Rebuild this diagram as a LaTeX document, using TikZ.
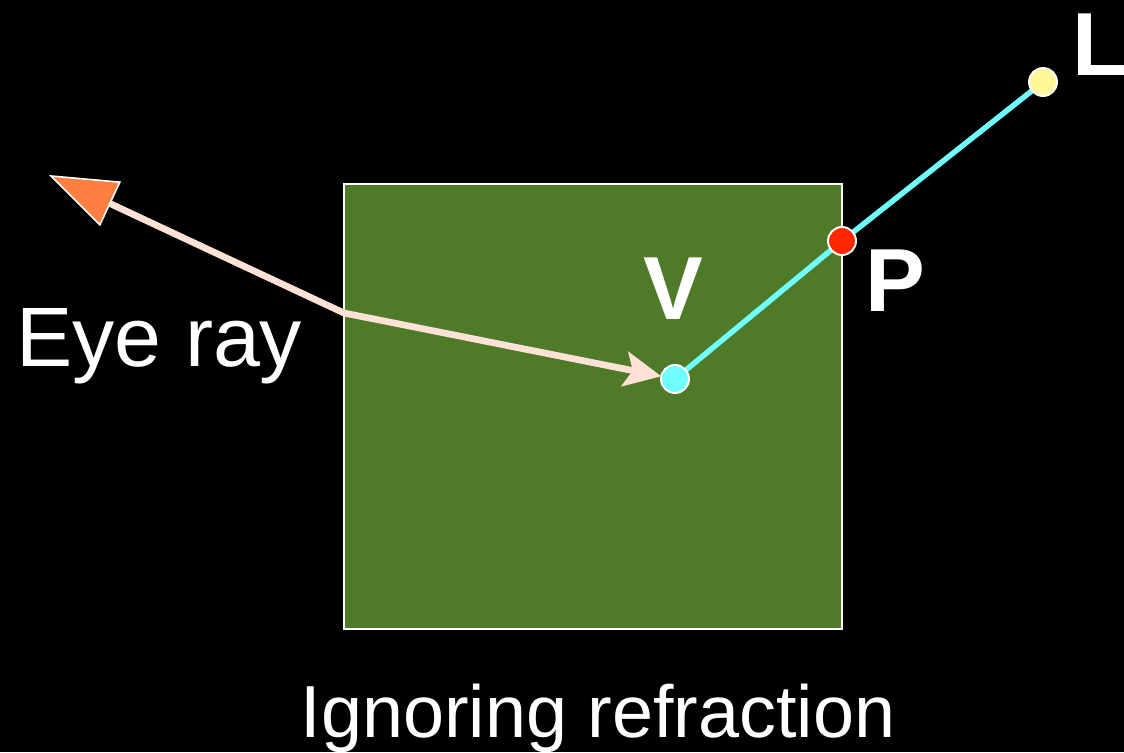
\documentclass[tikz,border=0pt]{standalone}
\usepackage{fontspec}
\setmainfont{Liberation Sans}
\usetikzlibrary{arrows.meta}

\definecolor{slabgreen}{RGB}{79,122,40}
\definecolor{raypeach}{RGB}{255,225,214}
\definecolor{tiporange}{RGB}{255,127,64}
\definecolor{raycyan}{RGB}{111,255,255}
\definecolor{hitred}{RGB}{255,38,0}
\definecolor{lampyellow}{RGB}{255,248,153}

\tikzset{
  dot/.style={circle, draw=white, line width=1.1pt, fill=#1,
    minimum size=0.56cm, inner sep=0pt},
  eyeray/.style={raypeach, line width=3.8pt},
  shadowray/.style={raycyan, line width=3.1pt},
  bigtext/.style={text=white, inner sep=0pt, font=\fontsize{48}{52}\selectfont},
  pointname/.style={text=white, inner sep=0pt, font=\fontsize{51}{56}\selectfont\bfseries}
}

\begin{document}
\begin{tikzpicture}[x=0.02cm, y=-0.02cm]
      % page
      \fill[black] (0,0) rectangle (1124,752);
      \useasboundingbox (0,0) rectangle (1124,752);
      % the object
      \draw[white, line width=0.7pt, fill=slabgreen] (344,184) rectangle (842,629);
      \coordinate (entry) at (344,313);
      \coordinate (eye) at (49,175);
      \coordinate (v) at (675,379);
      \coordinate (p) at (842,241);
      \coordinate (l) at (1043,82);
      % eye ray
      \draw[eyeray, -{Triangle[length=1.36cm, width=0.98cm, fill=tiporange, color=white, line width=0.9pt]}] (entry) -- (eye);
      \draw[eyeray, shorten >=14*0.02cm, -{Stealth[length=0.74cm, width=0.7cm, inset=0.16cm]}] (entry) -- (v);
      % shadow ray
      \draw[shadowray] (v) -- (p) -- (l);
      \node[dot=raycyan] (V) at (v) {};
      \node[dot=hitred] (P) at (p) {};
      \node[dot=lampyellow] (L) at (l) {};
      % labels
      \node[pointname, anchor=base] (Vname) at (673,319) {V};
      \node[pointname, anchor=base] (Pname) at (895,311) {P};
      \node[pointname, anchor=base west] (Lname) at (1072,75) {L};
      \node[bigtext, anchor=base west] (eyename) at (16,366) {Eye ray};
      \node[bigtext, font=\fontsize{42}{46}\selectfont, anchor=base] (caption) at (598,737) {Ignoring refraction};
    \end{tikzpicture}
\end{document}
